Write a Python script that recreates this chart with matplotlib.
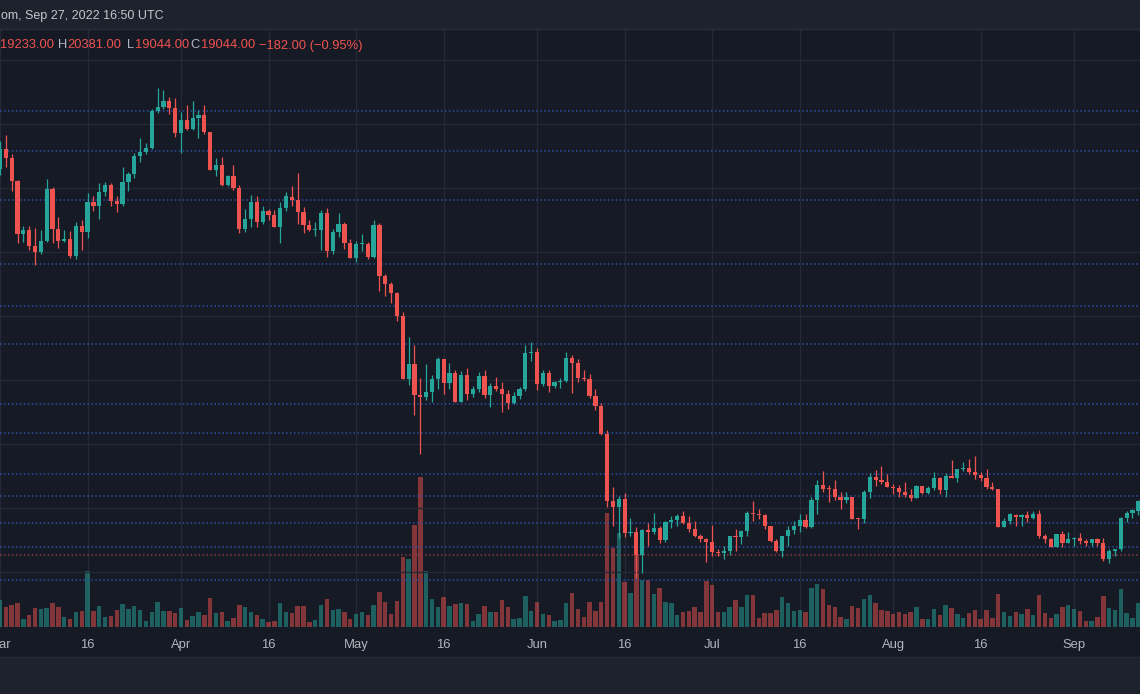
import matplotlib
matplotlib.use("Agg")
import matplotlib.dates as mdates
import matplotlib.pyplot as plt
import numpy as np
import pandas as pd
from matplotlib.patches import Rectangle

plt.rcParams["font.family"] = ["Liberation Sans", "DejaVu Sans"]

# daily BTC candles, 1 Mar 2022 .. 12 Sep 2022
dates = pd.date_range("2022-03-01", "2022-09-12", freq="D")

opens = [
    # Mar
    43160, 44420, 43880, 42420, 39140, 39390, 38400, 37990, 38710, 41950,
    39420, 38700, 38830, 37750, 39650, 39230, 41100, 40900, 41770, 42200,
    41200, 40970, 42400, 42880, 44000, 44270, 44480, 46810, 47080, 47440, 47020,
    # Apr
    45460, 46250, 45700, 46400, 46560, 45500, 43125, 43440, 42190, 42750,
    41980, 39440, 40060, 41100, 39850, 40560, 40310, 39580, 40770, 41420,
    41250, 40480, 39690, 39350, 39400, 40420, 38060, 39230, 39730, 38560,
    # May
    37600, 38480, 38520, 37710, 39680, 36480, 35990, 35440, 33980, 30040,
    31000, 29050, 28940, 29250, 30060, 31310, 29810, 30440, 28640, 30310,
    29125, 29440, 30250, 29060, 29625, 29440, 29125, 28560, 29000, 29440, 31690,
    # Jun
    31780, 29750, 30440, 29625, 29875, 29910, 31375, 31060, 30125, 30060,
    29000, 28375, 26600, 22440, 22060, 22560, 20410, 20490, 19050, 20600,
    20500, 20750, 20000, 21120, 21250, 21500, 21060, 20690, 20250, 20060,
    # Jul
    19875, 19250, 19190, 19310, 20270, 20190, 20560, 21690, 21600, 21560,
    20875, 19940, 19310, 20250, 20620, 20875, 21250, 20810, 22500, 23440,
    23250, 23160, 22690, 22500, 22690, 21310, 21290, 23000, 23940, 23750, 23625,
    # Aug
    23310, 23270, 23000, 22810, 22640, 23375, 22940, 23270, 23890, 23125,
    24020, 23890, 24440, 24500, 24250, 24060, 23890, 23310, 23190, 20810,
    21190, 21560, 21440, 21560, 21375, 21625, 20250, 20060, 19560, 20375, 19810,
    # Sep
    20060, 20140, 19940, 19810, 20060, 19810, 18810, 19310, 19440, 21390,
    21700, 21830,
]
highs = [
    44950, 45310, 44120, 42500, 39600, 39650, 39500, 39350, 42560, 42050,
    40200, 39350, 39300, 39900, 40000, 41700, 41480, 42330, 42400, 42300,
    41500, 43310, 43000, 44200, 45125, 44800, 46950, 48250, 48100, 47700, 47625,
    46750, 47190, 47450, 46875, 47190, 45520, 43900, 43950, 42800, 43440,
    42200, 40700, 41550, 41500, 40850, 40700, 40600, 41150, 41750, 42150,
    42950, 40800, 39980, 39900, 40625, 40750, 39450, 40440, 39900, 38800,
    38700, 39150, 38650, 40000, 39800, 36650, 36130, 35500, 34250, 32710,
    32190, 30125, 31000, 30330, 31450, 31320, 31050, 30650, 30550, 30760,
    29600, 30470, 30650, 29800, 30200, 29850, 29370, 29250, 29580, 32200, 32400,
    31980, 30650, 30650, 29950, 30150, 31750, 31550, 31330, 30650, 30350,
    29450, 28550, 26900, 23310, 22750, 22950, 21350, 20800, 20700, 21060,
    21700, 20860, 21200, 21480, 21600, 21800, 21500, 21180, 20400, 20150,
    20940, 19430, 19650, 20250, 20700, 20650, 21800, 22440, 21950, 21600,
    20875, 20050, 20250, 20900, 21200, 21600, 21650, 22700, 23750, 24310,
    23450, 23750, 22980, 22980, 22700, 21375, 23100, 24200, 24400, 24650, 24150,
    23500, 23450, 23650, 23200, 23450, 23400, 23400, 24250, 23930, 24200,
    25000, 24450, 24850, 25050, 25250, 24250, 24450, 23600, 23200, 21400,
    21700, 21625, 21650, 21800, 21800, 21850, 20350, 20130, 20400, 20550, 20480,
    20200, 20450, 20050, 20000, 20100, 20150, 19450, 19450, 21450, 21800,
    21950, 22480,
]
lows = [
    42800, 43330, 41830, 38560, 38650, 38100, 37190, 37850, 38650, 38560,
    38250, 38650, 37600, 37580, 38120, 38900, 40550, 40060, 41500, 40900,
    40520, 40880, 41800, 42600, 43650, 44100, 44420, 46690, 46950, 46600, 45210,
    44210, 45625, 45600, 45100, 45380, 43100, 42750, 42100, 42120, 41870,
    39200, 39250, 39580, 39550, 39770, 40000, 39550, 38540, 40550, 40850,
    39750, 39200, 39300, 39000, 38125, 37700, 37900, 38960, 38200, 37600,
    37400, 38050, 37550, 37650, 35580, 35270, 34800, 33700, 30050, 29690,
    27810, 25400, 28730, 28620, 29460, 29100, 29450, 28600, 28600, 28730,
    28950, 29230, 28850, 28330, 29300, 28020, 28200, 28480, 28800, 29300, 31200,
    29350, 29600, 29250, 29480, 29500, 29890, 29190, 29850, 29950, 28850,
    28150, 26560, 22050, 20875, 20100, 20200, 20250, 17625, 17960, 19600,
    20350, 19800, 19900, 20750, 20900, 21000, 20520, 20200, 19850, 18625,
    19000, 19000, 18800, 19050, 19300, 19780, 20250, 21200, 21320, 20680,
    19880, 19250, 18940, 19650, 20400, 20500, 20760, 20760, 21600, 23000,
    22350, 22500, 21950, 22300, 21300, 20700, 21050, 22600, 23400, 23500, 23300,
    22850, 22700, 22700, 22450, 22600, 22900, 22850, 23150, 22900, 22700,
    23900, 23600, 24300, 24100, 23800, 23700, 23200, 23100, 20800, 20800,
    21000, 20900, 20900, 21150, 21300, 20150, 19800, 19550, 19550, 19550, 19800,
    19650, 19750, 19650, 19600, 19650, 18680, 18550, 19020, 19300, 21100,
    21350, 21550,
]
closes = [
    44420, 43880, 42420, 39140, 39390, 38400, 37990, 38710, 41950, 39420,
    38700, 38830, 37750, 39650, 39230, 41100, 40900, 41770, 42200, 41200,
    40970, 42400, 42880, 44000, 44270, 44480, 46810, 47080, 47440, 47020, 45460,
    46250, 45700, 46400, 46560, 45500, 43125, 43440, 42190, 42750, 41980,
    39440, 40060, 41100, 39850, 40560, 40310, 39580, 40770, 41500, 41250,
    40480, 39690, 39350, 39400, 40420, 38060, 39230, 39730, 38560, 37600,
    38480, 38520, 37710, 39680, 36480, 35990, 35440, 33980, 30040, 31000,
    29050, 28940, 29250, 30060, 31310, 29810, 30440, 28640, 30310, 29125,
    29440, 30250, 29060, 29625, 29440, 29125, 28560, 29000, 29440, 31690, 31780,
    29750, 30440, 29625, 29875, 29910, 31375, 31060, 30125, 30060, 29000,
    28375, 26600, 22440, 22060, 22560, 20410, 20490, 19050, 20600, 20500,
    20750, 20000, 21120, 21250, 21500, 21060, 20690, 20250, 20060, 19875,
    19250, 19190, 19310, 20250, 20190, 20560, 21690, 21600, 21560, 20875,
    19940, 19310, 20250, 20620, 20875, 21250, 20810, 22500, 23440, 23190,
    23160, 22690, 22500, 22690, 21310, 21290, 23000, 23940, 23750, 23625, 23310,
    23270, 23000, 22810, 22640, 23375, 22940, 23270, 23890, 23125, 24020,
    23890, 24440, 24500, 24250, 24060, 23890, 23310, 23190, 20810, 21190,
    21625, 21440, 21560, 21375, 21625, 20250, 20060, 19560, 20375, 19810, 20060,
    20140, 19940, 19810, 20060, 19810, 18810, 19310, 19440, 21390, 21700,
    21875, 22440,
]
volumes = [
    27, 20.3, 22, 23.7, 8.3, 12, 18.7, 18, 19, 23.7, 20, 10, 8.3, 14.7, 16.3,
    55.7, 16.3, 21, 10, 11, 17.3, 22.7, 18, 21, 17, 5.7, 15.3, 25.3, 16.3, 16.3, 13.7,
    19, 7.3, 11, 14.7, 12, 28.7, 13.7, 14.7, 5.7, 9.3, 21.7, 20, 15.3, 12, 8.3,
    5, 5.7, 23.7, 14.7, 13.7, 21, 21, 5, 7.3, 21.7, 28, 17.3, 18, 15.3, 8.3,
    12.7, 14.7, 12, 21.7, 35, 25, 13, 26, 70, 68, 102, 150, 56, 28, 20,
    30, 21, 22.7, 24.3, 22.7, 5.7, 12.7, 20.7, 14.7, 15.3, 27, 20, 7.7, 9.3, 30.7, 16.3,
    25.3, 13, 12, 5.7, 6.7, 23.7, 34, 18, 10, 25, 16, 25, 114, 79, 94,
    45, 34, 73, 47, 47, 33.3, 39.3, 25.3, 23.7, 12, 14.7, 16.3, 20, 15.3, 46,
    41.7, 14.7, 14.7, 20, 27, 20, 32.3, 31.7, 9.3, 13.7, 13.7, 17.3, 29.7, 24.3, 15.7,
    17.3, 14.7, 39.3, 42.7, 37.7, 21.7, 20, 10, 7.7, 20.7, 19, 28, 32.3, 24.3, 17.3, 16.3,
    13, 14.7, 13, 15.3, 20, 7.7, 7.7, 18, 12, 21.7, 19, 13, 9.3, 13.7, 17.3,
    8.3, 17.3, 9.3, 33.3, 14.7, 11, 14.7, 13, 18, 12, 32.3, 13.7, 9.3, 13, 20, 21.7,
    18, 16.3, 5.7, 5.7, 10, 30.7, 19, 17.3, 37.7, 13.7, 9.3, 24,
]

level_lines = [46800, 44300, 41250, 37270, 34600, 32270, 28520, 26670,
               24130, 22730, 21080, 19580, 17500]
last_price = 19044
tick_dates = ["2022-03-01", "2022-03-16", "2022-04-01", "2022-04-16", "2022-05-01",
              "2022-05-16", "2022-06-01", "2022-06-16", "2022-07-01", "2022-07-16",
              "2022-08-01", "2022-08-16", "2022-09-01"]
tick_labels = ["Mar", "16", "Apr", "16", "May", "16", "Jun", "16", "Jul", "16",
               "Aug", "16", "Sep"]

BG = "#161a25"
PANEL = "#1e222d"
GRID = "#252935"
UP, DOWN = "#26a69a", "#ef5350"
TXT = "#b2b5be"

W, H = 1140, 694
fig = plt.figure(figsize=(W / 100, H / 100), dpi=100, facecolor=PANEL)

top_px, bot_px = 29, 628
pos = [0, 1 - bot_px / H, 1, (bot_px - top_px) / H]
vax = fig.add_axes(pos)
ax = fig.add_axes(pos, sharex=vax)
ax.set_zorder(vax.get_zorder() + 1)
ax.patch.set_visible(False)
vax.set_facecolor(BG)

# time axis strip
fig.patches.append(Rectangle((0, 1 - 656 / H), 1, (656 - bot_px) / H,
                             transform=fig.transFigure, color=BG, zorder=0))
fig.add_artist(plt.Line2D([0, 1], [1 - 28.5 / H] * 2, color="#2a2e39", lw=1))
fig.add_artist(plt.Line2D([0, 1], [1 - 656.5 / H] * 2, color="#262a34", lw=1))

x = mdates.date2num(dates)
o = np.array(opens, float)
h = np.array(highs, float)
l = np.array(lows, float)
c = np.array(closes, float)
up = c >= o
cols = np.where(up, UP, DOWN)

x0 = mdates.date2num(pd.Timestamp("2022-03-01"))
ax.set_xlim(x0 + 0.086, x0 + 195.29)
ax.set_ylim(14500, 51937.5)
vax.set_ylim(-1, 598)

# volume
vax.bar(x, volumes, width=0.76, color=cols, alpha=0.5, linewidth=0)

# grid
for d in tick_dates:
    vax.axvline(mdates.date2num(pd.Timestamp(d)), color=GRID, lw=1, zorder=0)
for p in range(18000, 52000, 4000):
    ax.axhline(p, color=GRID, lw=1, zorder=0)

# level lines
for p in level_lines:
    ax.axhline(p, color="#2b4ea6", lw=1.1, ls=(0, (1, 1.6)), zorder=1)
ax.axhline(last_price, color="#8e3a40", lw=1.1, ls=(0, (1, 1.6)), zorder=1)

# candles
ax.vlines(x, l, h, colors=cols, lw=0.9, zorder=2)
body = np.maximum(np.abs(c - o), 70)
ax.bar(x, body, bottom=np.minimum(o, c), width=0.72, color=cols, linewidth=0, zorder=3)

for a in (ax, vax):
    for s in a.spines.values():
        s.set_visible(False)
    a.tick_params(left=False, right=False, labelleft=False, labelright=False)
vax.tick_params(bottom=False, labelbottom=False)
ax.set_xticks([mdates.date2num(pd.Timestamp(d)) for d in tick_dates])
ax.set_xticklabels(tick_labels)
ax.tick_params(axis="x", length=0, pad=8, colors=TXT, labelsize=9.4)

# header texts
fig.text(0.001, 1 - 16 / H, "om, Sep 27, 2022 16:50 UTC", color="#c3c6cc",
         fontsize=9, va="center", ha="left")
yy = 1 - 45.5 / H
# (letter, value, x of value start in px)
ohlc = [("", "19233.00", 0), ("H", "20381.00", 67.5), ("L", "19044.00", 134.5),
        ("C", "19044.00", 200.5)]
for letter, val, xp in ohlc:
    if letter:
        fig.text((xp - 0.5) / W, yy, letter, color=TXT, fontsize=9.3, va="center", ha="right")
    fig.text(xp / W, yy, val, color=DOWN, fontsize=9.3, va="center", ha="left")
fig.text(259 / W, yy, "\u2212182.00 (\u22120.95%)", color=DOWN, fontsize=9.3,
         va="center", ha="left")

fig.savefig("out.png", dpi=100, facecolor=PANEL)
